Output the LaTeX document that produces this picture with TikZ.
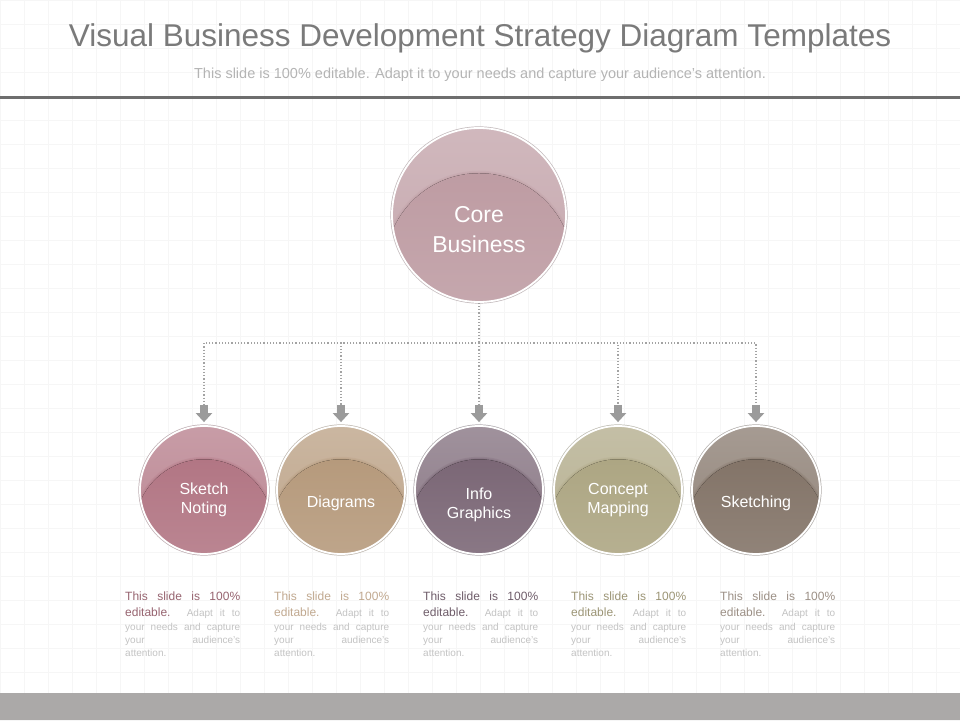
\documentclass[tikz,border=0pt]{standalone}
\usepackage{fontspec}
\setmainfont{Liberation Sans}
\usetikzlibrary{arrows.meta}

\definecolor{coreball}{HTML}{BE9CA3}
\definecolor{sketchnoting}{HTML}{B27684}
\definecolor{diagrams}{HTML}{B69A7C}
\definecolor{infographics}{HTML}{7B6776}
\definecolor{conceptmap}{HTML}{ADA683}
\definecolor{sketching}{HTML}{837468}
\definecolor{titlegray}{HTML}{7A7A7A}
\definecolor{subgray}{HTML}{B4B4B4}
\definecolor{rulegray}{HTML}{6E6E6E}
\definecolor{bargray}{HTML}{ABA9A8}
\definecolor{linkgray}{HTML}{A3A3A3}
\definecolor{arrowgray}{HTML}{9B9B9B}
\definecolor{notegray}{HTML}{C3C3C3}
\definecolor{gridgray}{HTML}{F6F6F6}

\newcommand{\noteline}[1]{\makebox[115pt][s]{#1}}

\tikzset{
  ball/.style 2 args={circle, minimum size=#2, inner sep=0pt, draw=white, line width=1.8pt,
    preaction={draw=#1!45!gray!60, line width=3.2pt},
    path picture={
      \fill[top color=#1!72!white, bottom color=#1!88!white] (path picture bounding box.south west) rectangle (path picture bounding box.north east);
      \fill[#1, opacity=0.25] (path picture bounding box.center) ++(0,-0.3*#2) circle (0.54*#2+2.5);
      \fill[#1, opacity=0.35] (path picture bounding box.center) ++(0,-0.3*#2) circle (0.54*#2+1.2);
      \fill[top color=#1, bottom color=#1!84!white] (path picture bounding box.center) ++(0,-0.3*#2) circle (0.54*#2);
    }},
  balltext/.style={text=white, align=center, inner sep=0pt, font=\fontsize{16}{19.5}\selectfont},
  link/.style={linkgray, line width=1.2pt, dotted},
  blockarrow/.style={arrowgray, line width=8.5pt, -{Triangle[width=16pt, length=9pt]}, shorten >=3pt},
  note/.style={anchor=north west, inner sep=0pt, align=left, text=notegray, font=\fontsize{10}{13}\selectfont},
}

\begin{document}
\begin{tikzpicture}[x=1pt, y=1pt]
\useasboundingbox (0,0) rectangle (960,720);
\fill[white] (0,0) rectangle (960,720);
\draw[gridgray, line width=0.4pt, step=24] (0,0) grid (960,720); %background grid

% header
\node[text=titlegray, font=\fontsize{31.5}{36}\selectfont] (title) at (480,682) {Visual Business Development Strategy Diagram Templates};
\node[text=subgray, font=\fontsize{14.5}{17}\selectfont] (subtitle) at (480,645) {This slide is 100\% editable. Adapt it to your needs and capture your audience's attention.};
\fill[rulegray] (0,621) rectangle (960,624);
\fill[bargray] (0,0) rectangle (960,27);

% balls
\node[ball={coreball}{174}] (core) at (479,505) {};
\node[ball={sketchnoting}{128}] (sn) at (204,230) {};
\node[ball={diagrams}{128}] (dg) at (341,230) {};
\node[ball={infographics}{128}] (ig) at (479,230) {};
\node[ball={conceptmap}{128}] (cm) at (618,230) {};
\node[ball={sketching}{128}] (sk) at (756,230) {};

\node[balltext, font=\fontsize{23}{30}\selectfont] (core-t) at ([yshift=-15pt]core.center) {Core\\Business};
\node[balltext] (sn-t) at ([yshift=-10pt]sn.center) {Sketch\\Noting};
\node[balltext] (dg-t) at ([yshift=-13pt]dg.center) {Diagrams};
\node[balltext] (ig-t) at ([yshift=-15pt]ig.center) {Info\\Graphics};
\node[balltext] (cm-t) at ([yshift=-10pt]cm.center) {Concept\\Mapping};
\node[balltext] (sk-t) at ([yshift=-13pt]sk.center) {Sketching};

% connectors
\coordinate (hub) at (479,377);
\coordinate (a1) at (204,315); \coordinate (a2) at (341,315); \coordinate (a3) at (479,315);
\coordinate (a4) at (618,315); \coordinate (a5) at (756,315);
\draw[link] (core) -- (hub);
\draw[link] (hub) -| (a1); \draw[blockarrow] (a1) -- (sn); %1
\draw[link] (hub) -| (a2); \draw[blockarrow] (a2) -- (dg); %2
\draw[link] (hub) -- (a3); \draw[blockarrow] (a3) -- (ig); %3
\draw[link] (hub) -| (a4); \draw[blockarrow] (a4) -- (cm); %4
\draw[link] (hub) -| (a5); \draw[blockarrow] (a5) -- (sk); %5

% notes
\node[note] (n1) at (125,128) {{\fontsize{12}{15}\selectfont\color{sketchnoting!85!black}\noteline{This slide is 100\%}}\\[3pt]
  \noteline{{\fontsize{12}{15}\selectfont\color{sketchnoting!85!black}editable.} Adapt it to}\\[1pt]
  \noteline{your needs and capture}\\ \noteline{your audience's}\\ attention.};
\node[note] (n2) at (274,128) {{\fontsize{12}{15}\selectfont\color{diagrams!85!white}\noteline{This slide is 100\%}}\\[3pt]
  \noteline{{\fontsize{12}{15}\selectfont\color{diagrams!85!white}editable.} Adapt it to}\\[1pt]
  \noteline{your needs and capture}\\ \noteline{your audience's}\\ attention.};
\node[note] (n3) at (423,128) {{\fontsize{12}{15}\selectfont\color{infographics!90!black}\noteline{This slide is 100\%}}\\[3pt]
  \noteline{{\fontsize{12}{15}\selectfont\color{infographics!90!black}editable.} Adapt it to}\\[1pt]
  \noteline{your needs and capture}\\ \noteline{your audience's}\\ attention.};
\node[note] (n4) at (571,128) {{\fontsize{12}{15}\selectfont\color{conceptmap!90!black}\noteline{This slide is 100\%}}\\[3pt]
  \noteline{{\fontsize{12}{15}\selectfont\color{conceptmap!90!black}editable.} Adapt it to}\\[1pt]
  \noteline{your needs and capture}\\ \noteline{your audience's}\\ attention.};
\node[note] (n5) at (720,128) {{\fontsize{12}{15}\selectfont\color{sketching!80!white}\noteline{This slide is 100\%}}\\[3pt]
  \noteline{{\fontsize{12}{15}\selectfont\color{sketching!80!white}editable.} Adapt it to}\\[1pt]
  \noteline{your needs and capture}\\ \noteline{your audience's}\\ attention.};
\end{tikzpicture}
\end{document}
